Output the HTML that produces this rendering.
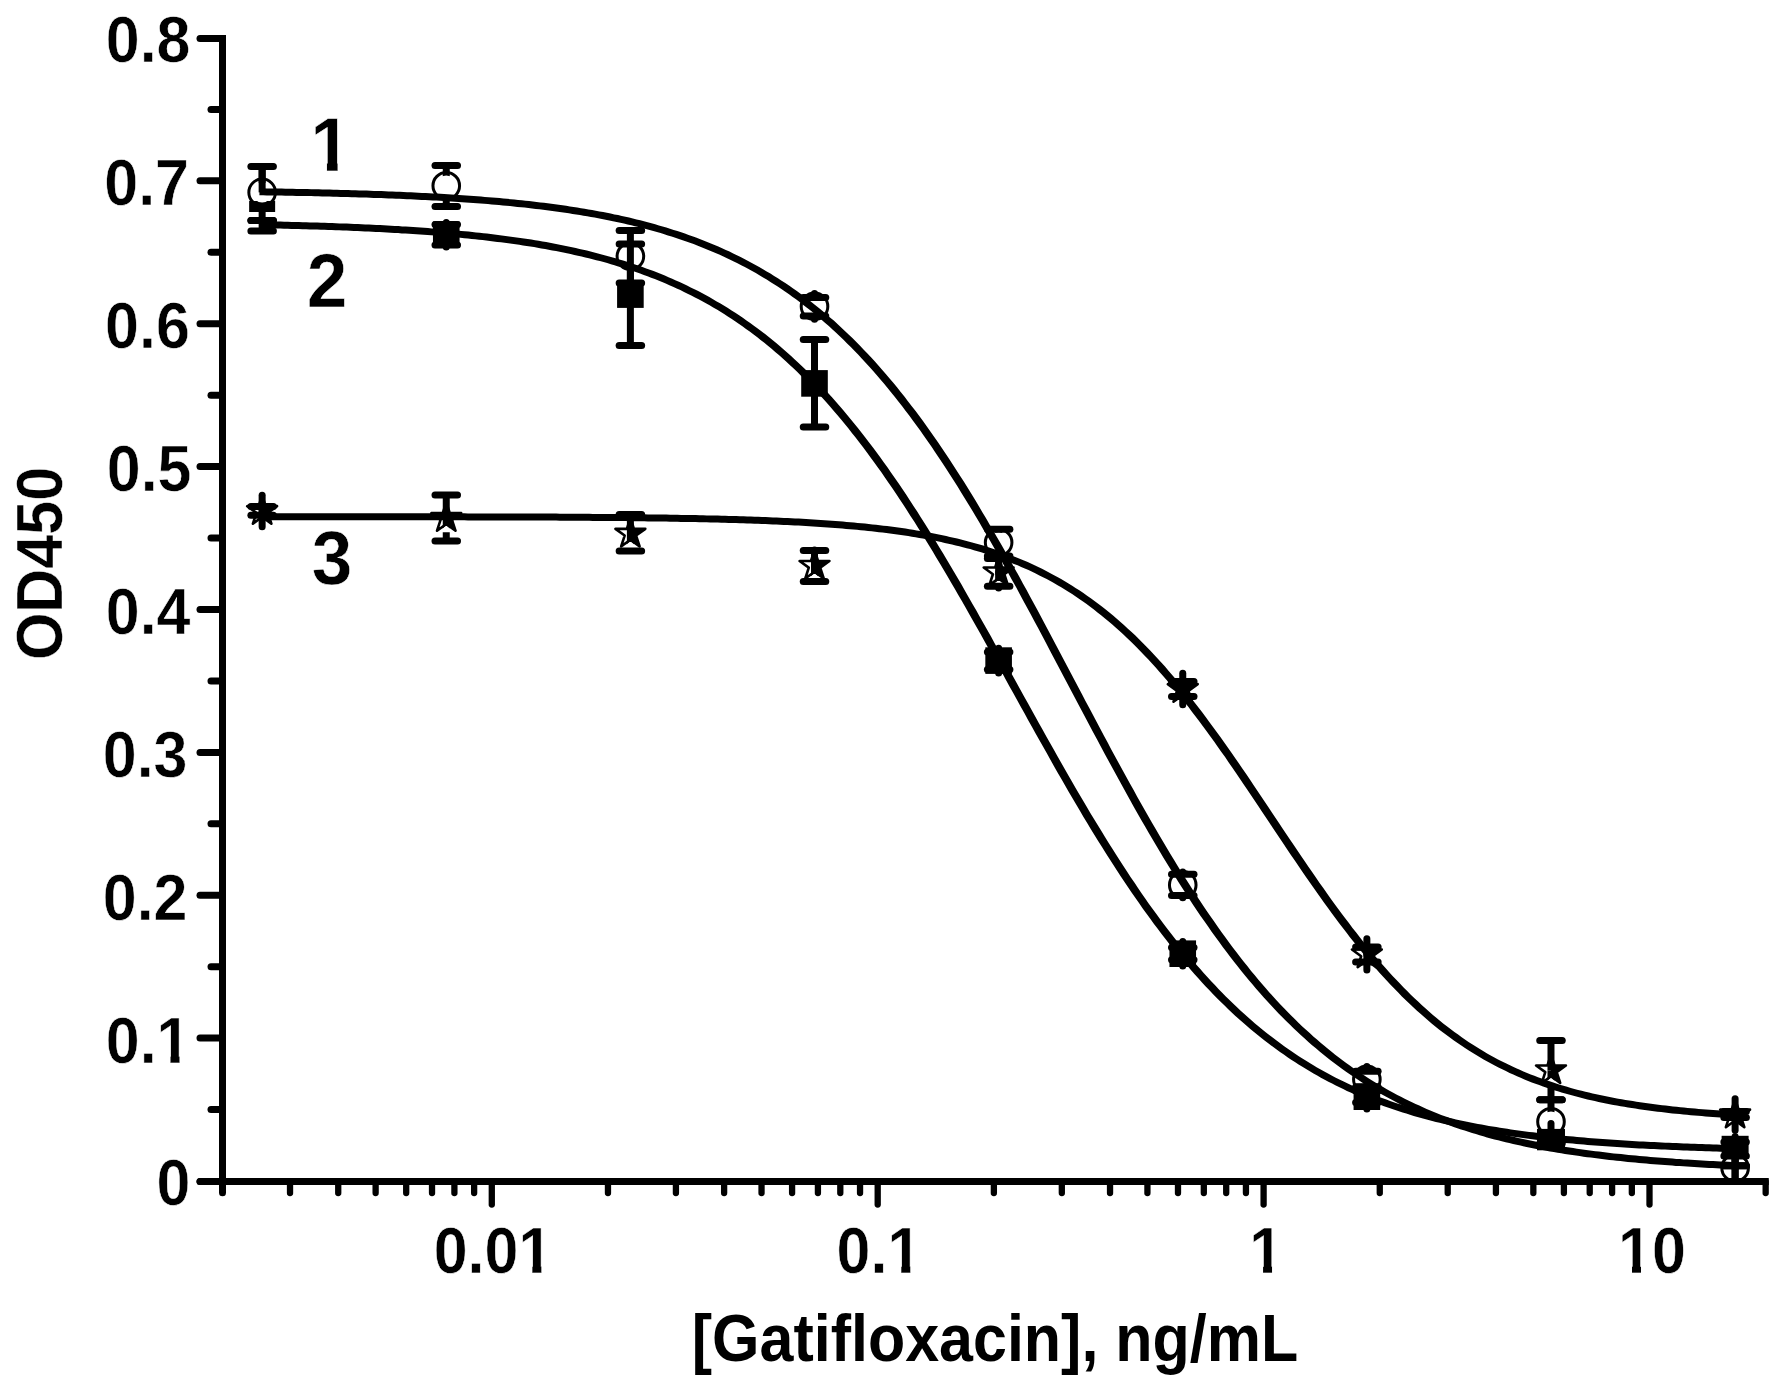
<!DOCTYPE html>
<html><head><meta charset="utf-8"><title>Gatifloxacin ELISA curves</title>
<style>
html,body{margin:0;padding:0;background:#fff;}
svg{display:block}
text{font-family:"Liberation Sans",sans-serif;font-weight:bold;fill:#000;stroke:#fff;stroke-width:0.5px}
</style></head><body>
<svg width="1784" height="1389" viewBox="0 0 1784 1389" stroke="#000" fill="none" shape-rendering="geometricPrecision">
<rect width="1784" height="1389" fill="#fff" stroke="none"/>
<line x1="222.50" y1="35.00" x2="222.50" y2="1192.75" stroke-width="7" stroke-linecap="butt"/>
<line x1="222.50" y1="1190.00" x2="222.50" y2="1192.75" stroke-width="7" stroke-linecap="round"/>
<line x1="200.00" y1="1181.50" x2="1768.50" y2="1181.50" stroke-width="7" stroke-linecap="butt"/>
<line x1="200.00" y1="1181.50" x2="210.00" y2="1181.50" stroke-width="7" stroke-linecap="round"/>
<line x1="200.00" y1="1181.50" x2="222.50" y2="1181.50" stroke-width="7" stroke-linecap="round"/>
<line x1="211.00" y1="1109.56" x2="222.50" y2="1109.56" stroke-width="7" stroke-linecap="round"/>
<line x1="200.00" y1="1038.12" x2="222.50" y2="1038.12" stroke-width="7" stroke-linecap="round"/>
<line x1="211.00" y1="966.69" x2="222.50" y2="966.69" stroke-width="7" stroke-linecap="round"/>
<line x1="200.00" y1="895.25" x2="222.50" y2="895.25" stroke-width="7" stroke-linecap="round"/>
<line x1="211.00" y1="823.81" x2="222.50" y2="823.81" stroke-width="7" stroke-linecap="round"/>
<line x1="200.00" y1="752.38" x2="222.50" y2="752.38" stroke-width="7" stroke-linecap="round"/>
<line x1="211.00" y1="680.94" x2="222.50" y2="680.94" stroke-width="7" stroke-linecap="round"/>
<line x1="200.00" y1="609.50" x2="222.50" y2="609.50" stroke-width="7" stroke-linecap="round"/>
<line x1="211.00" y1="538.06" x2="222.50" y2="538.06" stroke-width="7" stroke-linecap="round"/>
<line x1="200.00" y1="466.62" x2="222.50" y2="466.62" stroke-width="7" stroke-linecap="round"/>
<line x1="211.00" y1="395.19" x2="222.50" y2="395.19" stroke-width="7" stroke-linecap="round"/>
<line x1="200.00" y1="323.75" x2="222.50" y2="323.75" stroke-width="7" stroke-linecap="round"/>
<line x1="211.00" y1="252.31" x2="222.50" y2="252.31" stroke-width="7" stroke-linecap="round"/>
<line x1="200.00" y1="180.87" x2="222.50" y2="180.87" stroke-width="7" stroke-linecap="round"/>
<line x1="211.00" y1="109.44" x2="222.50" y2="109.44" stroke-width="7" stroke-linecap="round"/>
<line x1="200.00" y1="38.50" x2="222.50" y2="38.50" stroke-width="7" stroke-linecap="round"/>
<rect x="219.0" y="35" width="7" height="7" fill="#000" stroke="none"/>
<line x1="290.02" y1="1181.50" x2="290.02" y2="1193.00" stroke-width="6.3" stroke-linecap="round"/>
<line x1="338.23" y1="1181.50" x2="338.23" y2="1193.00" stroke-width="6.3" stroke-linecap="round"/>
<line x1="375.63" y1="1181.50" x2="375.63" y2="1193.00" stroke-width="6.3" stroke-linecap="round"/>
<line x1="406.19" y1="1181.50" x2="406.19" y2="1193.00" stroke-width="6.3" stroke-linecap="round"/>
<line x1="432.02" y1="1181.50" x2="432.02" y2="1193.00" stroke-width="6.3" stroke-linecap="round"/>
<line x1="454.40" y1="1181.50" x2="454.40" y2="1193.00" stroke-width="6.3" stroke-linecap="round"/>
<line x1="474.14" y1="1181.50" x2="474.14" y2="1193.00" stroke-width="6.3" stroke-linecap="round"/>
<line x1="491.80" y1="1181.50" x2="491.80" y2="1204.60" stroke-width="6.3" stroke-linecap="round"/>
<line x1="607.97" y1="1181.50" x2="607.97" y2="1193.00" stroke-width="6.3" stroke-linecap="round"/>
<line x1="675.92" y1="1181.50" x2="675.92" y2="1193.00" stroke-width="6.3" stroke-linecap="round"/>
<line x1="724.13" y1="1181.50" x2="724.13" y2="1193.00" stroke-width="6.3" stroke-linecap="round"/>
<line x1="761.53" y1="1181.50" x2="761.53" y2="1193.00" stroke-width="6.3" stroke-linecap="round"/>
<line x1="792.09" y1="1181.50" x2="792.09" y2="1193.00" stroke-width="6.3" stroke-linecap="round"/>
<line x1="817.92" y1="1181.50" x2="817.92" y2="1193.00" stroke-width="6.3" stroke-linecap="round"/>
<line x1="840.30" y1="1181.50" x2="840.30" y2="1193.00" stroke-width="6.3" stroke-linecap="round"/>
<line x1="860.04" y1="1181.50" x2="860.04" y2="1193.00" stroke-width="6.3" stroke-linecap="round"/>
<line x1="877.70" y1="1181.50" x2="877.70" y2="1204.60" stroke-width="6.3" stroke-linecap="round"/>
<line x1="993.87" y1="1181.50" x2="993.87" y2="1193.00" stroke-width="6.3" stroke-linecap="round"/>
<line x1="1061.82" y1="1181.50" x2="1061.82" y2="1193.00" stroke-width="6.3" stroke-linecap="round"/>
<line x1="1110.03" y1="1181.50" x2="1110.03" y2="1193.00" stroke-width="6.3" stroke-linecap="round"/>
<line x1="1147.43" y1="1181.50" x2="1147.43" y2="1193.00" stroke-width="6.3" stroke-linecap="round"/>
<line x1="1177.99" y1="1181.50" x2="1177.99" y2="1193.00" stroke-width="6.3" stroke-linecap="round"/>
<line x1="1203.82" y1="1181.50" x2="1203.82" y2="1193.00" stroke-width="6.3" stroke-linecap="round"/>
<line x1="1226.20" y1="1181.50" x2="1226.20" y2="1193.00" stroke-width="6.3" stroke-linecap="round"/>
<line x1="1245.94" y1="1181.50" x2="1245.94" y2="1193.00" stroke-width="6.3" stroke-linecap="round"/>
<line x1="1263.60" y1="1181.50" x2="1263.60" y2="1204.60" stroke-width="6.3" stroke-linecap="round"/>
<line x1="1379.77" y1="1181.50" x2="1379.77" y2="1193.00" stroke-width="6.3" stroke-linecap="round"/>
<line x1="1447.72" y1="1181.50" x2="1447.72" y2="1193.00" stroke-width="6.3" stroke-linecap="round"/>
<line x1="1495.93" y1="1181.50" x2="1495.93" y2="1193.00" stroke-width="6.3" stroke-linecap="round"/>
<line x1="1533.33" y1="1181.50" x2="1533.33" y2="1193.00" stroke-width="6.3" stroke-linecap="round"/>
<line x1="1563.89" y1="1181.50" x2="1563.89" y2="1193.00" stroke-width="6.3" stroke-linecap="round"/>
<line x1="1589.72" y1="1181.50" x2="1589.72" y2="1193.00" stroke-width="6.3" stroke-linecap="round"/>
<line x1="1612.10" y1="1181.50" x2="1612.10" y2="1193.00" stroke-width="6.3" stroke-linecap="round"/>
<line x1="1631.84" y1="1181.50" x2="1631.84" y2="1193.00" stroke-width="6.3" stroke-linecap="round"/>
<line x1="1649.50" y1="1181.50" x2="1649.50" y2="1204.60" stroke-width="6.3" stroke-linecap="round"/>
<line x1="1765.67" y1="1181.50" x2="1765.67" y2="1193.00" stroke-width="6.3" stroke-linecap="round"/>
<rect x="1761.5" y="1178.0" width="7" height="7" fill="#000" stroke="none"/>
<rect x="249.14" y="201" width="26" height="11" fill="#000" stroke="none"/>
<line x1="262.14" y1="166.50" x2="262.14" y2="192.40" stroke-width="7" stroke-linecap="butt"/>
<line x1="262.14" y1="192.40" x2="262.14" y2="220.50" stroke-width="7" stroke-linecap="butt"/>
<circle cx="262.14" cy="192.40" r="10.2" fill="#fff" stroke="none"/>
<circle cx="262.14" cy="192.40" r="13.3" fill="none" stroke-width="3"/>
<line x1="250.89" y1="166.50" x2="273.39" y2="166.50" stroke-width="7" stroke-linecap="round"/>
<line x1="250.89" y1="220.50" x2="273.39" y2="220.50" stroke-width="7" stroke-linecap="round"/>
<line x1="262.14" y1="166.50" x2="262.14" y2="192.40" stroke-width="7" stroke-linecap="butt"/>
<line x1="446.26" y1="165.50" x2="446.26" y2="185.80" stroke-width="7" stroke-linecap="butt"/>
<line x1="446.26" y1="185.80" x2="446.26" y2="206.50" stroke-width="7" stroke-linecap="butt"/>
<circle cx="446.26" cy="185.80" r="10.2" fill="#fff" stroke="none"/>
<circle cx="446.26" cy="185.80" r="13.3" fill="none" stroke-width="3"/>
<line x1="435.01" y1="165.50" x2="457.51" y2="165.50" stroke-width="7" stroke-linecap="round"/>
<line x1="435.01" y1="206.50" x2="457.51" y2="206.50" stroke-width="7" stroke-linecap="round"/>
<line x1="630.39" y1="230.60" x2="630.39" y2="256.25" stroke-width="7" stroke-linecap="butt"/>
<line x1="630.39" y1="256.25" x2="630.39" y2="283.00" stroke-width="7" stroke-linecap="butt"/>
<circle cx="630.39" cy="256.25" r="10.2" fill="#fff" stroke="none"/>
<circle cx="630.39" cy="256.25" r="13.3" fill="none" stroke-width="3"/>
<line x1="619.14" y1="230.60" x2="641.64" y2="230.60" stroke-width="7" stroke-linecap="round"/>
<line x1="619.14" y1="283.00" x2="641.64" y2="283.00" stroke-width="7" stroke-linecap="round"/>
<line x1="814.51" y1="293.50" x2="814.51" y2="306.40" stroke-width="7" stroke-linecap="round"/>
<line x1="814.51" y1="306.40" x2="814.51" y2="319.30" stroke-width="7" stroke-linecap="round"/>
<circle cx="814.51" cy="306.40" r="10.2" fill="#fff" stroke="none"/>
<circle cx="814.51" cy="306.40" r="13.3" fill="none" stroke-width="3"/>
<line x1="803.26" y1="297.40" x2="825.76" y2="297.40" stroke-width="7" stroke-linecap="round"/>
<line x1="803.26" y1="316.00" x2="825.76" y2="316.00" stroke-width="7" stroke-linecap="round"/>
<line x1="998.63" y1="529.60" x2="998.63" y2="542.50" stroke-width="7" stroke-linecap="round"/>
<line x1="998.63" y1="542.50" x2="998.63" y2="555.40" stroke-width="7" stroke-linecap="round"/>
<circle cx="998.63" cy="542.50" r="10.2" fill="#fff" stroke="none"/>
<circle cx="998.63" cy="542.50" r="13.3" fill="none" stroke-width="3"/>
<line x1="987.38" y1="529.20" x2="1009.88" y2="529.20" stroke-width="7" stroke-linecap="round"/>
<line x1="987.38" y1="556.00" x2="1009.88" y2="556.00" stroke-width="7" stroke-linecap="round"/>
<line x1="1182.75" y1="872.00" x2="1182.75" y2="884.90" stroke-width="7" stroke-linecap="round"/>
<line x1="1182.75" y1="884.90" x2="1182.75" y2="897.80" stroke-width="7" stroke-linecap="round"/>
<circle cx="1182.75" cy="884.90" r="10.2" fill="#fff" stroke="none"/>
<circle cx="1182.75" cy="884.90" r="13.3" fill="none" stroke-width="3"/>
<line x1="1171.50" y1="874.30" x2="1194.00" y2="874.30" stroke-width="7" stroke-linecap="round"/>
<line x1="1171.50" y1="895.40" x2="1194.00" y2="895.40" stroke-width="7" stroke-linecap="round"/>
<line x1="1366.87" y1="1066.50" x2="1366.87" y2="1079.40" stroke-width="7" stroke-linecap="round"/>
<line x1="1366.87" y1="1079.40" x2="1366.87" y2="1092.30" stroke-width="7" stroke-linecap="round"/>
<circle cx="1366.87" cy="1079.40" r="10.2" fill="#fff" stroke="none"/>
<circle cx="1366.87" cy="1079.40" r="13.3" fill="none" stroke-width="3"/>
<line x1="1355.62" y1="1071.30" x2="1378.12" y2="1071.30" stroke-width="7" stroke-linecap="round"/>
<line x1="1355.62" y1="1087.00" x2="1378.12" y2="1087.00" stroke-width="7" stroke-linecap="round"/>
<line x1="1550.99" y1="1099.80" x2="1550.99" y2="1121.70" stroke-width="7" stroke-linecap="butt"/>
<line x1="1550.99" y1="1121.70" x2="1550.99" y2="1143.60" stroke-width="7" stroke-linecap="butt"/>
<circle cx="1550.99" cy="1121.70" r="10.2" fill="#fff" stroke="none"/>
<circle cx="1550.99" cy="1121.70" r="13.3" fill="none" stroke-width="3"/>
<line x1="1539.74" y1="1099.80" x2="1562.24" y2="1099.80" stroke-width="7" stroke-linecap="round"/>
<line x1="1539.74" y1="1143.60" x2="1562.24" y2="1143.60" stroke-width="7" stroke-linecap="round"/>
<line x1="1735.11" y1="1155.10" x2="1735.11" y2="1168.00" stroke-width="7" stroke-linecap="round"/>
<line x1="1735.11" y1="1168.00" x2="1735.11" y2="1180.90" stroke-width="7" stroke-linecap="round"/>
<line x1="1735.11" y1="1158.00" x2="1735.11" y2="1181.00" stroke-width="7" stroke-linecap="butt"/>
<circle cx="1735.11" cy="1168.00" r="13.3" fill="none" stroke-width="3"/>
<line x1="1723.86" y1="1165.70" x2="1746.36" y2="1165.70" stroke-width="7" stroke-linecap="round"/>
<line x1="1723.86" y1="1165.70" x2="1746.36" y2="1165.70" stroke-width="7" stroke-linecap="round"/>
<polygon points="259.4,195.2 263.1,195.3 266.8,195.4 270.5,195.4 274.2,195.5 277.9,195.5 281.6,195.6 285.3,195.7 288.9,195.7 292.6,195.8 296.3,195.9 300.0,195.9 303.7,196.0 307.4,196.1 311.1,196.1 314.8,196.2 318.4,196.3 322.1,196.4 325.8,196.5 329.5,196.6 333.2,196.7 336.9,196.8 340.6,196.9 344.3,197.0 347.9,197.1 351.6,197.2 355.3,197.3 359.0,197.4 362.7,197.5 366.4,197.6 370.1,197.7 373.7,197.9 377.4,198.0 381.1,198.1 384.8,198.3 388.5,198.4 392.2,198.5 395.9,198.7 399.5,198.8 403.2,199.0 406.9,199.2 410.6,199.3 414.3,199.5 418.0,199.7 421.6,199.9 425.3,200.0 429.0,200.2 432.7,200.4 436.4,200.6 440.1,200.8 443.7,201.1 447.4,201.3 451.1,201.5 454.8,201.7 458.5,202.0 462.2,202.2 465.8,202.5 469.5,202.7 473.2,203.0 476.9,203.3 480.6,203.6 484.2,203.8 487.9,204.1 491.6,204.4 495.3,204.8 499.0,205.1 502.7,205.4 506.3,205.8 510.0,206.1 513.7,206.5 517.4,206.9 521.1,207.2 524.7,207.6 528.4,208.0 532.1,208.5 535.8,208.9 539.4,209.3 543.1,209.8 546.8,210.2 550.5,210.7 554.1,211.2 557.8,211.7 561.5,212.2 565.2,212.8 568.9,213.3 572.5,213.9 576.2,214.5 579.9,215.1 583.5,215.7 587.2,216.3 590.9,216.9 594.6,217.6 598.2,218.3 601.9,219.0 605.6,219.7 609.3,220.4 612.9,221.2 616.6,222.0 620.3,222.8 623.9,223.6 627.6,224.5 631.3,225.3 634.9,226.2 638.6,227.1 642.3,228.1 645.9,229.0 649.6,230.0 653.3,231.0 656.9,232.1 660.6,233.1 664.3,234.2 667.9,235.4 671.6,236.5 675.3,237.7 678.9,238.9 682.6,240.2 686.3,241.5 689.9,242.8 693.6,244.1 697.2,245.5 700.9,247.0 704.6,248.4 708.2,249.9 711.9,251.4 715.5,253.0 719.2,254.6 722.9,256.3 726.5,258.0 730.2,259.7 733.8,261.5 737.5,263.3 741.2,265.2 744.8,267.1 748.5,269.1 752.1,271.1 755.8,273.1 759.4,275.2 763.1,277.4 766.7,279.6 770.4,281.9 774.0,284.2 777.7,286.6 781.4,289.0 785.0,291.5 788.7,294.1 792.3,296.7 796.0,299.3 799.6,302.1 803.3,304.9 806.9,307.7 810.6,310.6 814.2,313.6 817.9,316.6 821.5,319.7 825.2,322.9 828.8,326.1 832.5,329.5 836.1,332.8 839.8,336.3 843.5,339.8 847.1,343.4 850.8,347.0 854.4,350.8 858.1,354.6 861.7,358.4 865.4,362.4 869.1,366.4 872.7,370.5 876.4,374.7 880.0,379.0 883.7,383.3 887.4,387.7 891.0,392.2 894.7,396.7 898.4,401.4 902.0,406.1 905.7,410.9 909.4,415.7 913.0,420.7 916.7,425.7 920.4,430.8 924.0,436.0 927.7,441.2 931.4,446.5 935.0,451.9 938.7,457.4 942.4,463.0 946.0,468.6 949.7,474.3 953.4,480.0 957.1,485.8 960.7,491.7 964.4,497.7 968.1,503.7 971.8,509.8 975.5,515.9 979.1,522.1 982.8,528.4 986.5,534.7 990.2,541.1 993.9,547.5 997.6,554.0 1001.2,560.6 1004.9,567.1 1008.6,573.8 1012.3,580.4 1016.0,587.1 1019.7,593.9 1023.3,600.7 1027.0,607.5 1030.7,614.3 1034.4,621.2 1038.1,628.1 1041.8,635.0 1045.5,642.0 1049.1,648.9 1052.8,655.9 1056.5,662.9 1060.2,669.9 1063.9,676.9 1067.6,683.9 1071.3,690.9 1075.0,697.9 1078.7,704.9 1082.3,711.8 1086.0,718.8 1089.7,725.8 1093.4,732.7 1097.1,739.6 1100.8,746.5 1104.5,753.4 1108.2,760.2 1111.9,767.1 1115.6,773.8 1119.3,780.6 1123.0,787.3 1126.7,794.0 1130.3,800.6 1134.0,807.2 1137.7,813.7 1141.4,820.2 1145.1,826.6 1148.8,833.0 1152.5,839.3 1156.2,845.6 1159.9,851.8 1163.6,858.0 1167.3,864.1 1171.0,870.1 1174.7,876.1 1178.4,882.0 1182.1,887.8 1185.8,893.5 1189.5,899.2 1193.2,904.9 1196.9,910.4 1200.6,915.9 1204.4,921.3 1208.1,926.6 1211.8,931.9 1215.5,937.0 1219.2,942.1 1222.9,947.2 1226.6,952.1 1230.3,957.0 1234.0,961.8 1237.8,966.5 1241.5,971.2 1245.2,975.7 1248.9,980.2 1252.6,984.6 1256.3,989.0 1260.1,993.2 1263.8,997.4 1267.5,1001.5 1271.2,1005.6 1274.9,1009.5 1278.6,1013.4 1282.4,1017.2 1286.1,1021.0 1289.8,1024.6 1293.5,1028.2 1297.3,1031.8 1301.0,1035.2 1304.7,1038.6 1308.4,1041.9 1312.1,1045.2 1315.9,1048.3 1319.6,1051.5 1323.3,1054.5 1327.0,1057.5 1330.8,1060.4 1334.5,1063.3 1338.2,1066.1 1341.9,1068.8 1345.7,1071.5 1349.4,1074.1 1353.1,1076.6 1356.9,1079.1 1360.6,1081.5 1364.3,1083.9 1368.0,1086.3 1371.8,1088.5 1375.5,1090.7 1379.2,1092.9 1382.9,1095.0 1386.6,1097.1 1390.4,1099.1 1394.1,1101.1 1397.8,1103.0 1401.5,1104.9 1405.2,1106.8 1409.0,1108.5 1412.7,1110.3 1416.4,1112.0 1420.1,1113.7 1423.8,1115.3 1427.6,1116.9 1431.3,1118.4 1435.0,1119.9 1438.7,1121.4 1442.4,1122.8 1446.1,1124.2 1449.9,1125.6 1453.6,1126.9 1457.3,1128.2 1461.0,1129.4 1464.7,1130.6 1468.4,1131.8 1472.1,1133.0 1475.9,1134.1 1479.6,1135.2 1483.3,1136.3 1487.0,1137.4 1490.7,1138.4 1494.4,1139.4 1498.1,1140.3 1501.8,1141.3 1505.6,1142.2 1509.3,1143.1 1513.0,1143.9 1516.7,1144.8 1520.4,1145.6 1524.1,1146.4 1527.8,1147.2 1531.5,1147.9 1535.2,1148.7 1538.9,1149.4 1542.6,1150.1 1546.3,1150.8 1550.0,1151.4 1553.7,1152.1 1557.5,1152.7 1561.2,1153.3 1564.9,1153.9 1568.6,1154.5 1572.3,1155.1 1576.0,1155.6 1579.7,1156.1 1583.4,1156.7 1587.1,1157.2 1590.8,1157.6 1594.5,1158.1 1598.2,1158.6 1601.9,1159.0 1605.6,1159.5 1609.3,1159.9 1613.0,1160.3 1616.7,1160.7 1620.4,1161.1 1624.1,1161.5 1627.8,1161.9 1631.5,1162.2 1635.2,1162.6 1638.9,1162.9 1642.6,1163.2 1646.3,1163.6 1650.0,1163.9 1653.7,1164.2 1657.4,1164.5 1661.1,1164.8 1664.7,1165.1 1668.4,1165.3 1672.1,1165.6 1675.8,1165.9 1679.5,1166.1 1683.2,1166.3 1686.9,1166.6 1690.6,1166.8 1694.3,1167.0 1698.0,1167.3 1701.7,1167.5 1705.4,1167.7 1709.1,1167.9 1712.8,1168.1 1716.5,1168.3 1720.2,1168.4 1723.9,1168.6 1727.6,1168.8 1731.3,1169.0 1734.9,1169.1 1735.3,1162.1 1731.6,1162.0 1727.9,1161.8 1724.2,1161.6 1720.5,1161.5 1716.8,1161.3 1713.1,1161.1 1709.5,1160.9 1705.8,1160.7 1702.1,1160.5 1698.4,1160.3 1694.7,1160.1 1691.0,1159.8 1687.4,1159.6 1683.7,1159.4 1680.0,1159.1 1676.3,1158.9 1672.6,1158.6 1669.0,1158.3 1665.3,1158.1 1661.6,1157.8 1657.9,1157.5 1654.2,1157.2 1650.5,1156.9 1646.9,1156.6 1643.2,1156.3 1639.5,1155.9 1635.8,1155.6 1632.1,1155.3 1628.5,1154.9 1624.8,1154.5 1621.1,1154.1 1617.4,1153.8 1613.7,1153.4 1610.1,1152.9 1606.4,1152.5 1602.7,1152.1 1599.0,1151.6 1595.4,1151.2 1591.7,1150.7 1588.0,1150.2 1584.3,1149.7 1580.7,1149.2 1577.0,1148.7 1573.3,1148.1 1569.6,1147.6 1566.0,1147.0 1562.3,1146.4 1558.6,1145.8 1554.9,1145.2 1551.3,1144.6 1547.6,1143.9 1543.9,1143.2 1540.2,1142.5 1536.6,1141.8 1532.9,1141.1 1529.2,1140.3 1525.6,1139.6 1521.9,1138.8 1518.2,1138.0 1514.5,1137.1 1510.9,1136.3 1507.2,1135.4 1503.5,1134.5 1499.9,1133.5 1496.2,1132.6 1492.5,1131.6 1488.9,1130.6 1485.2,1129.6 1481.5,1128.5 1477.9,1127.4 1474.2,1126.3 1470.5,1125.2 1466.9,1124.0 1463.2,1122.8 1459.6,1121.5 1455.9,1120.3 1452.2,1119.0 1448.6,1117.6 1444.9,1116.3 1441.2,1114.9 1437.6,1113.4 1433.9,1111.9 1430.3,1110.4 1426.6,1108.9 1422.9,1107.3 1419.3,1105.6 1415.6,1103.9 1412.0,1102.2 1408.3,1100.5 1404.7,1098.7 1401.0,1096.8 1397.3,1094.9 1393.7,1093.0 1390.0,1091.0 1386.4,1088.9 1382.7,1086.8 1379.1,1084.7 1375.4,1082.5 1371.7,1080.3 1368.1,1078.0 1364.4,1075.6 1360.8,1073.2 1357.1,1070.7 1353.5,1068.2 1349.8,1065.6 1346.2,1063.0 1342.5,1060.3 1338.9,1057.5 1335.2,1054.7 1331.6,1051.8 1327.9,1048.8 1324.3,1045.8 1320.6,1042.8 1317.0,1039.6 1313.3,1036.4 1309.7,1033.1 1306.0,1029.8 1302.3,1026.4 1298.7,1022.9 1295.0,1019.3 1291.4,1015.7 1287.7,1012.0 1284.1,1008.2 1280.4,1004.4 1276.7,1000.4 1273.1,996.4 1269.4,992.4 1265.8,988.2 1262.1,984.0 1258.4,979.7 1254.8,975.3 1251.1,970.9 1247.5,966.3 1243.8,961.7 1240.1,957.1 1236.5,952.3 1232.8,947.5 1229.1,942.5 1225.5,937.6 1221.8,932.5 1218.1,927.3 1214.5,922.1 1210.8,916.8 1207.1,911.5 1203.4,906.0 1199.8,900.5 1196.1,894.9 1192.4,889.3 1188.8,883.5 1185.1,877.7 1181.4,871.9 1177.7,866.0 1174.1,860.0 1170.4,853.9 1166.7,847.8 1163.0,841.6 1159.3,835.3 1155.7,829.0 1152.0,822.7 1148.3,816.3 1144.6,809.8 1140.9,803.3 1137.2,796.7 1133.6,790.1 1129.9,783.5 1126.2,776.8 1122.5,770.1 1118.8,763.3 1115.1,756.5 1111.4,749.7 1107.8,742.8 1104.1,735.9 1100.4,729.0 1096.7,722.1 1093.0,715.1 1089.3,708.1 1085.6,701.2 1082.0,694.2 1078.3,687.2 1074.6,680.2 1070.9,673.2 1067.2,666.2 1063.5,659.2 1059.8,652.2 1056.1,645.2 1052.4,638.3 1048.7,631.3 1045.1,624.4 1041.4,617.5 1037.7,610.6 1034.0,603.7 1030.3,596.9 1026.6,590.1 1022.9,583.4 1019.2,576.6 1015.5,569.9 1011.8,563.3 1008.1,556.7 1004.4,550.1 1000.7,543.6 997.0,537.2 993.3,530.8 989.6,524.4 985.9,518.1 982.2,511.9 978.6,505.7 974.9,499.6 971.2,493.5 967.5,487.6 963.8,481.6 960.0,475.8 956.3,470.0 952.6,464.3 948.9,458.6 945.2,453.1 941.5,447.6 937.8,442.1 934.1,436.8 930.4,431.5 926.7,426.3 923.0,421.1 919.3,416.1 915.6,411.1 911.8,406.2 908.1,401.4 904.4,396.6 900.7,391.9 897.0,387.3 893.3,382.8 889.6,378.4 885.8,374.0 882.1,369.7 878.4,365.5 874.7,361.3 871.0,357.3 867.2,353.3 863.5,349.4 859.8,345.5 856.1,341.8 852.4,338.1 848.6,334.4 844.9,330.9 841.2,327.4 837.5,324.0 833.8,320.6 830.0,317.4 826.3,314.2 822.6,311.0 818.9,307.9 815.1,304.9 811.4,302.0 807.7,299.1 804.0,296.3 800.2,293.5 796.5,290.8 792.8,288.2 789.0,285.6 785.3,283.1 781.6,280.7 777.9,278.3 774.1,275.9 770.4,273.6 766.7,271.4 763.0,269.2 759.2,267.0 755.5,265.0 751.8,262.9 748.1,260.9 744.4,259.0 740.6,257.1 736.9,255.2 733.2,253.4 729.5,251.6 725.8,249.9 722.1,248.2 718.3,246.6 714.6,245.0 710.9,243.4 707.2,241.9 703.5,240.4 699.7,239.0 696.0,237.6 692.3,236.2 688.6,234.9 684.9,233.6 681.2,232.3 677.4,231.1 673.7,229.9 670.0,228.7 666.3,227.6 662.6,226.4 658.9,225.4 655.2,224.3 651.5,223.3 647.7,222.3 644.0,221.3 640.3,220.3 636.6,219.4 632.9,218.5 629.2,217.6 625.5,216.8 621.8,216.0 618.1,215.1 614.4,214.4 610.7,213.6 606.9,212.8 603.2,212.1 599.5,211.4 595.8,210.7 592.1,210.1 588.4,209.4 584.7,208.8 581.0,208.2 577.3,207.6 573.6,207.0 569.9,206.4 566.2,205.8 562.5,205.3 558.8,204.8 555.1,204.3 551.4,203.8 547.7,203.3 544.0,202.8 540.3,202.4 536.6,201.9 532.9,201.5 529.2,201.1 525.5,200.7 521.8,200.3 518.1,199.9 514.4,199.5 510.7,199.2 507.0,198.8 503.3,198.5 499.6,198.1 495.9,197.8 492.2,197.5 488.5,197.2 484.8,196.9 481.1,196.6 477.4,196.3 473.7,196.0 470.0,195.7 466.3,195.5 462.6,195.2 458.9,195.0 455.2,194.7 451.5,194.5 447.9,194.3 444.2,194.1 440.5,193.8 436.8,193.6 433.1,193.4 429.4,193.2 425.7,193.0 422.0,192.9 418.3,192.7 414.6,192.5 410.9,192.3 407.2,192.2 403.5,192.0 399.8,191.8 396.1,191.7 392.4,191.5 388.7,191.4 385.1,191.3 381.4,191.1 377.7,191.0 374.0,190.9 370.3,190.7 366.6,190.6 362.9,190.5 359.2,190.4 355.5,190.3 351.8,190.2 348.1,190.1 344.4,190.0 340.8,189.9 337.1,189.8 333.4,189.7 329.7,189.6 326.0,189.5 322.3,189.4 318.6,189.3 314.9,189.2 311.2,189.2 307.5,189.1 303.8,189.0 300.1,188.9 296.5,188.9 292.8,188.8 289.1,188.7 285.4,188.7 281.7,188.6 278.0,188.5 274.3,188.5 270.6,188.4 266.9,188.4 263.2,188.3 259.6,188.2" fill="#000" stroke="none"/>
<line x1="262.14" y1="220.50" x2="262.14" y2="231.00" stroke-width="7" stroke-linecap="butt"/>
<line x1="250.89" y1="220.50" x2="273.39" y2="220.50" stroke-width="7" stroke-linecap="round"/>
<line x1="250.89" y1="231.00" x2="273.39" y2="231.00" stroke-width="7" stroke-linecap="round"/>
<line x1="446.26" y1="222.45" x2="446.26" y2="234.75" stroke-width="7" stroke-linecap="round"/>
<line x1="446.26" y1="234.75" x2="446.26" y2="247.05" stroke-width="7" stroke-linecap="round"/>
<line x1="435.01" y1="224.50" x2="457.51" y2="224.50" stroke-width="7" stroke-linecap="round"/>
<line x1="435.01" y1="245.00" x2="457.51" y2="245.00" stroke-width="7" stroke-linecap="round"/>
<rect x="432.96" y="221.45" width="26.6" height="26.6" fill="#000" stroke="none"/>
<line x1="630.39" y1="243.90" x2="630.39" y2="294.60" stroke-width="7" stroke-linecap="butt"/>
<line x1="630.39" y1="294.60" x2="630.39" y2="345.40" stroke-width="7" stroke-linecap="butt"/>
<line x1="619.14" y1="243.90" x2="641.64" y2="243.90" stroke-width="7" stroke-linecap="round"/>
<line x1="619.14" y1="345.40" x2="641.64" y2="345.40" stroke-width="7" stroke-linecap="round"/>
<rect x="617.09" y="281.30" width="26.6" height="26.6" fill="#000" stroke="none"/>
<line x1="814.51" y1="339.60" x2="814.51" y2="383.40" stroke-width="7" stroke-linecap="butt"/>
<line x1="814.51" y1="383.40" x2="814.51" y2="427.00" stroke-width="7" stroke-linecap="butt"/>
<line x1="803.26" y1="339.60" x2="825.76" y2="339.60" stroke-width="7" stroke-linecap="round"/>
<line x1="803.26" y1="427.00" x2="825.76" y2="427.00" stroke-width="7" stroke-linecap="round"/>
<rect x="801.21" y="370.10" width="26.6" height="26.6" fill="#000" stroke="none"/>
<line x1="998.63" y1="648.30" x2="998.63" y2="660.60" stroke-width="7" stroke-linecap="round"/>
<line x1="998.63" y1="660.60" x2="998.63" y2="672.90" stroke-width="7" stroke-linecap="round"/>
<line x1="987.38" y1="652.00" x2="1009.88" y2="652.00" stroke-width="7" stroke-linecap="round"/>
<line x1="987.38" y1="669.60" x2="1009.88" y2="669.60" stroke-width="7" stroke-linecap="round"/>
<rect x="985.33" y="647.30" width="26.6" height="26.6" fill="#000" stroke="none"/>
<line x1="1182.75" y1="941.40" x2="1182.75" y2="953.70" stroke-width="7" stroke-linecap="round"/>
<line x1="1182.75" y1="953.70" x2="1182.75" y2="966.00" stroke-width="7" stroke-linecap="round"/>
<line x1="1171.50" y1="947.50" x2="1194.00" y2="947.50" stroke-width="7" stroke-linecap="round"/>
<line x1="1171.50" y1="959.70" x2="1194.00" y2="959.70" stroke-width="7" stroke-linecap="round"/>
<rect x="1169.45" y="940.40" width="26.6" height="26.6" fill="#000" stroke="none"/>
<line x1="1366.87" y1="1084.40" x2="1366.87" y2="1096.70" stroke-width="7" stroke-linecap="round"/>
<line x1="1366.87" y1="1096.70" x2="1366.87" y2="1109.00" stroke-width="7" stroke-linecap="round"/>
<line x1="1355.62" y1="1091.00" x2="1378.12" y2="1091.00" stroke-width="7" stroke-linecap="round"/>
<line x1="1355.62" y1="1102.50" x2="1378.12" y2="1102.50" stroke-width="7" stroke-linecap="round"/>
<rect x="1353.57" y="1083.40" width="26.6" height="26.6" fill="#000" stroke="none"/>
<line x1="1550.99" y1="1123.50" x2="1550.99" y2="1135.00" stroke-width="7" stroke-linecap="round"/>
<rect x="1536.99" y="1128.9" width="28" height="21.4" fill="#000" stroke="none"/>
<line x1="1735.11" y1="1136.60" x2="1735.11" y2="1148.90" stroke-width="7" stroke-linecap="round"/>
<line x1="1735.11" y1="1148.90" x2="1735.11" y2="1161.20" stroke-width="7" stroke-linecap="round"/>
<line x1="1723.86" y1="1141.90" x2="1746.36" y2="1141.90" stroke-width="7" stroke-linecap="round"/>
<line x1="1723.86" y1="1155.90" x2="1746.36" y2="1155.90" stroke-width="7" stroke-linecap="round"/>
<rect x="1721.61" y="1135.8" width="27" height="22.9" fill="#000" stroke="none"/>
<polygon points="261.9,228.2 265.6,228.2 269.3,228.3 273.0,228.4 276.7,228.5 280.3,228.6 284.0,228.7 287.7,228.8 291.4,228.9 295.1,228.9 298.7,229.0 302.4,229.2 306.1,229.3 309.8,229.4 313.5,229.5 317.1,229.6 320.8,229.7 324.5,229.8 328.2,230.0 331.8,230.1 335.5,230.2 339.2,230.3 342.9,230.5 346.6,230.6 350.2,230.8 353.9,230.9 357.6,231.1 361.3,231.2 365.0,231.4 368.6,231.6 372.3,231.8 376.0,231.9 379.7,232.1 383.3,232.3 387.0,232.5 390.7,232.7 394.4,232.9 398.1,233.1 401.7,233.4 405.4,233.6 409.1,233.8 412.8,234.0 416.4,234.3 420.1,234.5 423.8,234.8 427.5,235.1 431.1,235.3 434.8,235.6 438.5,235.9 442.2,236.2 445.8,236.5 449.5,236.8 453.2,237.2 456.9,237.5 460.5,237.8 464.2,238.2 467.9,238.6 471.6,238.9 475.2,239.3 478.9,239.7 482.6,240.1 486.2,240.5 489.9,241.0 493.6,241.4 497.3,241.9 500.9,242.3 504.6,242.8 508.3,243.3 511.9,243.8 515.6,244.3 519.3,244.8 523.0,245.4 526.6,246.0 530.3,246.5 534.0,247.1 537.6,247.8 541.3,248.4 545.0,249.0 548.6,249.7 552.3,250.4 556.0,251.1 559.6,251.8 563.3,252.5 566.9,253.3 570.6,254.1 574.3,254.9 577.9,255.7 581.6,256.5 585.3,257.4 588.9,258.3 592.6,259.2 596.2,260.2 599.9,261.1 603.6,262.1 607.2,263.1 610.9,264.2 614.5,265.3 618.2,266.4 621.9,267.5 625.5,268.7 629.2,269.8 632.8,271.1 636.5,272.3 640.1,273.6 643.8,274.9 647.5,276.3 651.1,277.7 654.8,279.1 658.4,280.6 662.1,282.1 665.7,283.6 669.4,285.2 673.0,286.8 676.7,288.4 680.3,290.1 684.0,291.9 687.6,293.7 691.3,295.5 695.0,297.4 698.6,299.3 702.3,301.2 705.9,303.2 709.6,305.3 713.2,307.4 716.9,309.6 720.5,311.8 724.1,314.1 727.8,316.4 731.4,318.8 735.1,321.2 738.7,323.7 742.4,326.2 746.0,328.9 749.7,331.5 753.3,334.2 757.0,337.0 760.6,339.9 764.3,342.8 767.9,345.7 771.6,348.8 775.2,351.9 778.9,355.0 782.5,358.2 786.1,361.5 789.8,364.9 793.4,368.3 797.1,371.8 800.7,375.4 804.4,379.0 808.0,382.7 811.7,386.5 815.4,390.4 819.0,394.3 822.7,398.3 826.3,402.3 830.0,406.5 833.6,410.7 837.3,415.0 840.9,419.3 844.6,423.8 848.3,428.3 851.9,432.9 855.6,437.5 859.2,442.2 862.9,447.0 866.6,451.9 870.2,456.9 873.9,461.9 877.5,467.0 881.2,472.1 884.9,477.4 888.5,482.7 892.2,488.0 895.9,493.5 899.5,499.0 903.2,504.5 906.9,510.2 910.5,515.9 914.2,521.6 917.9,527.4 921.5,533.3 925.2,539.3 928.9,545.2 932.6,551.3 936.2,557.4 939.9,563.5 943.6,569.7 947.3,576.0 950.9,582.2 954.6,588.6 958.3,594.9 962.0,601.3 965.7,607.8 969.3,614.2 973.0,620.7 976.7,627.3 980.4,633.8 984.1,640.4 987.7,647.0 991.4,653.6 995.1,660.2 998.8,666.9 1002.5,673.5 1006.1,680.2 1009.8,686.9 1013.5,693.5 1017.2,700.2 1020.9,706.9 1024.6,713.5 1028.2,720.2 1031.9,726.8 1035.6,733.4 1039.3,740.0 1043.0,746.6 1046.7,753.1 1050.4,759.7 1054.0,766.2 1057.7,772.7 1061.4,779.1 1065.1,785.5 1068.8,791.9 1072.5,798.2 1076.2,804.5 1079.9,810.7 1083.5,816.9 1087.2,823.1 1090.9,829.2 1094.6,835.2 1098.3,841.2 1102.0,847.1 1105.7,853.0 1109.4,858.8 1113.1,864.6 1116.8,870.3 1120.5,875.9 1124.2,881.5 1127.9,887.0 1131.6,892.5 1135.3,897.8 1139.0,903.1 1142.7,908.4 1146.4,913.6 1150.1,918.6 1153.8,923.7 1157.5,928.6 1161.2,933.5 1164.9,938.3 1168.6,943.1 1172.3,947.7 1176.0,952.3 1179.7,956.8 1183.4,961.3 1187.2,965.6 1190.9,969.9 1194.6,974.2 1198.3,978.3 1202.0,982.4 1205.7,986.4 1209.4,990.3 1213.1,994.2 1216.8,998.0 1220.6,1001.7 1224.3,1005.3 1228.0,1008.9 1231.7,1012.4 1235.4,1015.9 1239.1,1019.2 1242.9,1022.5 1246.6,1025.8 1250.3,1028.9 1254.0,1032.1 1257.7,1035.1 1261.4,1038.1 1265.2,1041.0 1268.9,1043.8 1272.6,1046.6 1276.3,1049.3 1280.0,1052.0 1283.8,1054.6 1287.5,1057.2 1291.2,1059.7 1294.9,1062.1 1298.6,1064.5 1302.4,1066.8 1306.1,1069.1 1309.8,1071.3 1313.5,1073.5 1317.2,1075.6 1320.9,1077.7 1324.7,1079.7 1328.4,1081.7 1332.1,1083.6 1335.8,1085.5 1339.5,1087.3 1343.2,1089.1 1346.9,1090.9 1350.6,1092.6 1354.4,1094.2 1358.1,1095.9 1361.8,1097.5 1365.5,1099.0 1369.2,1100.5 1372.9,1102.0 1376.6,1103.4 1380.3,1104.8 1384.0,1106.2 1387.8,1107.5 1391.5,1108.8 1395.2,1110.0 1398.9,1111.3 1402.6,1112.5 1406.3,1113.6 1410.0,1114.8 1413.7,1115.9 1417.4,1117.0 1421.1,1118.0 1424.8,1119.0 1428.5,1120.0 1432.2,1121.0 1435.9,1121.9 1439.6,1122.8 1443.4,1123.7 1447.1,1124.6 1450.8,1125.5 1454.5,1126.3 1458.2,1127.1 1461.9,1127.9 1465.6,1128.6 1469.3,1129.4 1473.0,1130.1 1476.7,1130.8 1480.4,1131.5 1484.1,1132.1 1487.8,1132.8 1491.5,1133.4 1495.2,1134.0 1498.9,1134.6 1502.6,1135.2 1506.2,1135.7 1509.9,1136.3 1513.6,1136.8 1517.3,1137.3 1521.0,1137.8 1524.7,1138.3 1528.4,1138.8 1532.1,1139.3 1535.8,1139.7 1539.5,1140.2 1543.2,1140.6 1546.9,1141.0 1550.6,1141.4 1554.3,1141.8 1558.0,1142.2 1561.7,1142.6 1565.4,1142.9 1569.0,1143.3 1572.7,1143.6 1576.4,1143.9 1580.1,1144.3 1583.8,1144.6 1587.5,1144.9 1591.2,1145.2 1594.9,1145.5 1598.6,1145.7 1602.3,1146.0 1606.0,1146.3 1609.6,1146.5 1613.3,1146.8 1617.0,1147.0 1620.7,1147.3 1624.4,1147.5 1628.1,1147.7 1631.8,1147.9 1635.5,1148.2 1639.2,1148.4 1642.8,1148.6 1646.5,1148.8 1650.2,1148.9 1653.9,1149.1 1657.6,1149.3 1661.3,1149.5 1665.0,1149.6 1668.7,1149.8 1672.3,1150.0 1676.0,1150.1 1679.7,1150.3 1683.4,1150.4 1687.1,1150.6 1690.8,1150.7 1694.5,1150.8 1698.2,1151.0 1701.8,1151.1 1705.5,1151.2 1709.2,1151.3 1712.9,1151.5 1716.6,1151.6 1720.3,1151.7 1724.0,1151.8 1727.6,1151.9 1731.3,1152.0 1735.0,1152.1 1735.2,1145.1 1731.5,1145.0 1727.8,1144.9 1724.2,1144.8 1720.5,1144.7 1716.8,1144.6 1713.1,1144.5 1709.4,1144.3 1705.8,1144.2 1702.1,1144.1 1698.4,1144.0 1694.7,1143.8 1691.0,1143.7 1687.4,1143.6 1683.7,1143.4 1680.0,1143.3 1676.3,1143.1 1672.6,1143.0 1669.0,1142.8 1665.3,1142.7 1661.6,1142.5 1657.9,1142.3 1654.3,1142.1 1650.6,1142.0 1646.9,1141.8 1643.2,1141.6 1639.5,1141.4 1635.9,1141.2 1632.2,1141.0 1628.5,1140.7 1624.8,1140.5 1621.2,1140.3 1617.5,1140.1 1613.8,1139.8 1610.1,1139.6 1606.5,1139.3 1602.8,1139.0 1599.1,1138.8 1595.4,1138.5 1591.7,1138.2 1588.1,1137.9 1584.4,1137.6 1580.7,1137.3 1577.1,1137.0 1573.4,1136.6 1569.7,1136.3 1566.0,1135.9 1562.4,1135.6 1558.7,1135.2 1555.0,1134.8 1551.3,1134.5 1547.7,1134.0 1544.0,1133.6 1540.3,1133.2 1536.6,1132.8 1533.0,1132.3 1529.3,1131.9 1525.6,1131.4 1522.0,1130.9 1518.3,1130.4 1514.6,1129.9 1511.0,1129.4 1507.3,1128.8 1503.6,1128.3 1500.0,1127.7 1496.3,1127.1 1492.6,1126.5 1488.9,1125.9 1485.3,1125.2 1481.6,1124.6 1478.0,1123.9 1474.3,1123.2 1470.6,1122.5 1467.0,1121.8 1463.3,1121.0 1459.6,1120.2 1456.0,1119.4 1452.3,1118.6 1448.6,1117.8 1445.0,1116.9 1441.3,1116.0 1437.6,1115.1 1434.0,1114.2 1430.3,1113.2 1426.7,1112.3 1423.0,1111.3 1419.3,1110.2 1415.7,1109.2 1412.0,1108.1 1408.4,1106.9 1404.7,1105.8 1401.1,1104.6 1397.4,1103.4 1393.7,1102.2 1390.1,1100.9 1386.4,1099.6 1382.8,1098.2 1379.1,1096.9 1375.5,1095.5 1371.8,1094.0 1368.2,1092.5 1364.5,1091.0 1360.8,1089.5 1357.2,1087.9 1353.5,1086.2 1349.9,1084.5 1346.2,1082.8 1342.6,1081.0 1338.9,1079.2 1335.3,1077.4 1331.6,1075.5 1328.0,1073.5 1324.3,1071.5 1320.7,1069.5 1317.0,1067.4 1313.4,1065.3 1309.7,1063.1 1306.1,1060.8 1302.4,1058.5 1298.8,1056.2 1295.1,1053.7 1291.5,1051.3 1287.8,1048.7 1284.2,1046.2 1280.6,1043.5 1276.9,1040.8 1273.3,1038.1 1269.6,1035.3 1266.0,1032.4 1262.3,1029.4 1258.7,1026.4 1255.0,1023.4 1251.4,1020.2 1247.7,1017.0 1244.1,1013.8 1240.4,1010.4 1236.8,1007.0 1233.1,1003.5 1229.5,1000.0 1225.8,996.4 1222.2,992.7 1218.5,989.0 1214.9,985.1 1211.2,981.3 1207.6,977.3 1203.9,973.2 1200.3,969.1 1196.6,964.9 1193.0,960.7 1189.3,956.4 1185.6,952.0 1182.0,947.5 1178.3,942.9 1174.7,938.3 1171.0,933.6 1167.3,928.8 1163.7,924.0 1160.0,919.1 1156.4,914.1 1152.7,909.0 1149.0,903.9 1145.4,898.7 1141.7,893.4 1138.0,888.1 1134.4,882.6 1130.7,877.2 1127.0,871.6 1123.4,866.0 1119.7,860.3 1116.0,854.6 1112.4,848.8 1108.7,843.0 1105.0,837.1 1101.4,831.1 1097.7,825.1 1094.0,819.0 1090.3,812.9 1086.7,806.7 1083.0,800.5 1079.3,794.2 1075.6,787.9 1071.9,781.5 1068.3,775.2 1064.6,768.7 1060.9,762.3 1057.2,755.8 1053.6,749.3 1049.9,742.7 1046.2,736.2 1042.5,729.6 1038.8,722.9 1035.1,716.3 1031.5,709.7 1027.8,703.0 1024.1,696.4 1020.4,689.7 1016.7,683.0 1013.1,676.4 1009.4,669.7 1005.7,663.1 1002.0,656.4 998.3,649.8 994.6,643.2 991.0,636.6 987.3,630.0 983.6,623.4 979.9,616.9 976.2,610.3 972.5,603.9 968.8,597.4 965.1,591.0 961.5,584.6 957.8,578.3 954.1,572.0 950.4,565.7 946.7,559.5 943.0,553.3 939.3,547.2 935.6,541.1 931.9,535.1 928.2,529.1 924.6,523.2 920.9,517.4 917.2,511.6 913.5,505.9 909.8,500.2 906.1,494.6 902.4,489.1 898.7,483.6 895.0,478.2 891.3,472.9 887.6,467.6 883.9,462.4 880.2,457.3 876.5,452.3 872.8,447.3 869.1,442.4 865.3,437.5 861.6,432.8 857.9,428.1 854.2,423.5 850.5,418.9 846.8,414.4 843.1,410.0 839.4,405.7 835.7,401.5 832.0,397.3 828.3,393.2 824.5,389.1 820.8,385.2 817.1,381.3 813.4,377.5 809.7,373.7 806.0,370.1 802.3,366.5 798.6,362.9 794.8,359.5 791.1,356.1 787.4,352.7 783.7,349.5 780.0,346.3 776.2,343.1 772.5,340.1 768.8,337.1 765.1,334.1 761.4,331.3 757.7,328.5 753.9,325.7 750.2,323.0 746.5,320.4 742.8,317.8 739.1,315.3 735.3,312.8 731.6,310.4 727.9,308.1 724.2,305.8 720.5,303.6 716.7,301.4 713.0,299.2 709.3,297.1 705.6,295.1 701.9,293.1 698.2,291.1 694.5,289.2 690.7,287.4 687.0,285.6 683.3,283.8 679.6,282.1 675.9,280.4 672.2,278.8 668.5,277.2 664.8,275.6 661.1,274.1 657.3,272.6 653.6,271.1 649.9,269.7 646.2,268.4 642.5,267.0 638.8,265.7 635.1,264.4 631.4,263.2 627.7,262.0 624.0,260.8 620.2,259.7 616.5,258.6 612.8,257.5 609.1,256.4 605.4,255.4 601.7,254.4 598.0,253.4 594.3,252.4 590.6,251.5 586.9,250.6 583.2,249.7 579.5,248.9 575.8,248.0 572.1,247.2 568.4,246.4 564.7,245.7 561.0,244.9 557.3,244.2 553.6,243.5 549.9,242.8 546.2,242.1 542.5,241.5 538.8,240.8 535.1,240.2 531.4,239.6 527.7,239.0 524.0,238.5 520.3,237.9 516.6,237.4 512.9,236.9 509.2,236.4 505.5,235.9 501.8,235.4 498.1,234.9 494.4,234.5 490.7,234.0 487.0,233.6 483.4,233.2 479.7,232.7 476.0,232.4 472.3,232.0 468.6,231.6 464.9,231.2 461.2,230.9 457.5,230.5 453.8,230.2 450.1,229.9 446.4,229.5 442.7,229.2 439.1,228.9 435.4,228.6 431.7,228.4 428.0,228.1 424.3,227.8 420.6,227.6 416.9,227.3 413.2,227.1 409.5,226.8 405.8,226.6 402.2,226.4 398.5,226.1 394.8,225.9 391.1,225.7 387.4,225.5 383.7,225.3 380.0,225.1 376.3,224.9 372.7,224.8 369.0,224.6 365.3,224.4 361.6,224.3 357.9,224.1 354.2,223.9 350.5,223.8 346.8,223.6 343.2,223.5 339.5,223.4 335.8,223.2 332.1,223.1 328.4,223.0 324.7,222.8 321.0,222.7 317.4,222.6 313.7,222.5 310.0,222.4 306.3,222.3 302.6,222.2 298.9,222.1 295.2,222.0 291.6,221.9 287.9,221.8 284.2,221.7 280.5,221.6 276.8,221.5 273.1,221.4 269.4,221.3 265.8,221.3 262.1,221.2" fill="#000" stroke="none"/>
<line x1="262.14" y1="495.30" x2="262.14" y2="511.00" stroke-width="7" stroke-linecap="round"/>
<line x1="262.14" y1="511.00" x2="262.14" y2="526.70" stroke-width="7" stroke-linecap="round"/>
<line x1="250.89" y1="506.60" x2="273.39" y2="506.60" stroke-width="7" stroke-linecap="round"/>
<line x1="250.89" y1="515.20" x2="273.39" y2="515.20" stroke-width="7" stroke-linecap="round"/>
<polygon points="262.14,495.30 265.67,506.15 277.07,506.15 267.85,512.85 271.37,523.70 262.14,517.00 252.91,523.70 256.44,512.85 247.21,506.15 258.62,506.15" fill="none" stroke-width="2.6" stroke-linejoin="round"/>
<polygon points="262.14,495.30 265.67,506.15 277.07,506.15 267.85,512.85 271.37,523.70 262.14,517.00" fill="#000" stroke="none"/>
<line x1="446.26" y1="495.00" x2="446.26" y2="518.00" stroke-width="7" stroke-linecap="butt"/>
<line x1="446.26" y1="518.00" x2="446.26" y2="541.00" stroke-width="7" stroke-linecap="butt"/>
<polygon points="453.99,532.20 446.26,525.20 438.54,532.20" fill="#fff" stroke="none"/>
<line x1="435.01" y1="495.00" x2="457.51" y2="495.00" stroke-width="7" stroke-linecap="round"/>
<line x1="435.01" y1="541.00" x2="457.51" y2="541.00" stroke-width="7" stroke-linecap="round"/>
<polygon points="446.26,502.30 449.79,513.15 461.20,513.15 451.97,519.85 455.49,530.70 446.26,524.00 437.04,530.70 440.56,519.85 431.33,513.15 442.74,513.15" fill="none" stroke-width="2.6" stroke-linejoin="round"/>
<polygon points="446.26,502.30 449.79,513.15 461.20,513.15 451.97,519.85 455.49,530.70 446.26,524.00" fill="#000" stroke="none"/>
<line x1="630.39" y1="514.50" x2="630.39" y2="533.70" stroke-width="7" stroke-linecap="butt"/>
<line x1="630.39" y1="533.70" x2="630.39" y2="549.40" stroke-width="7" stroke-linecap="round"/>
<polygon points="638.11,547.90 630.39,540.90 622.66,547.90" fill="#fff" stroke="none"/>
<line x1="619.14" y1="514.60" x2="641.64" y2="514.60" stroke-width="7" stroke-linecap="round"/>
<line x1="619.14" y1="551.00" x2="641.64" y2="551.00" stroke-width="7" stroke-linecap="round"/>
<polygon points="630.39,518.00 633.91,528.85 645.32,528.85 636.09,535.55 639.61,546.40 630.39,539.70 621.16,546.40 624.68,535.55 615.45,528.85 626.86,528.85" fill="none" stroke-width="2.6" stroke-linejoin="round"/>
<polygon points="630.39,518.00 633.91,528.85 645.32,528.85 636.09,535.55 639.61,546.40 630.39,539.70" fill="#000" stroke="none"/>
<line x1="814.51" y1="550.10" x2="814.51" y2="565.80" stroke-width="7" stroke-linecap="round"/>
<line x1="814.51" y1="565.80" x2="814.51" y2="581.50" stroke-width="7" stroke-linecap="round"/>
<polygon points="822.23,580.00 814.51,573.00 806.78,580.00" fill="#fff" stroke="none"/>
<line x1="803.26" y1="550.50" x2="825.76" y2="550.50" stroke-width="7" stroke-linecap="round"/>
<line x1="803.26" y1="581.50" x2="825.76" y2="581.50" stroke-width="7" stroke-linecap="round"/>
<polygon points="814.51,550.10 818.03,560.95 829.44,560.95 820.21,567.65 823.73,578.50 814.51,571.80 805.28,578.50 808.80,567.65 799.57,560.95 810.98,560.95" fill="none" stroke-width="2.6" stroke-linejoin="round"/>
<polygon points="814.51,550.10 818.03,560.95 829.44,560.95 820.21,567.65 823.73,578.50 814.51,571.80" fill="#000" stroke="none"/>
<line x1="998.63" y1="556.70" x2="998.63" y2="572.40" stroke-width="7" stroke-linecap="round"/>
<line x1="998.63" y1="572.40" x2="998.63" y2="588.10" stroke-width="7" stroke-linecap="round"/>
<polygon points="1006.36,586.60 998.63,579.60 990.90,586.60" fill="#fff" stroke="none"/>
<line x1="987.38" y1="558.60" x2="1009.88" y2="558.60" stroke-width="7" stroke-linecap="round"/>
<line x1="987.38" y1="586.25" x2="1009.88" y2="586.25" stroke-width="7" stroke-linecap="round"/>
<polygon points="998.63,556.70 1002.15,567.55 1013.56,567.55 1004.33,574.25 1007.86,585.10 998.63,578.40 989.40,585.10 992.92,574.25 983.70,567.55 995.10,567.55" fill="none" stroke-width="2.6" stroke-linejoin="round"/>
<polygon points="998.63,556.70 1002.15,567.55 1013.56,567.55 1004.33,574.25 1007.86,585.10 998.63,578.40" fill="#000" stroke="none"/>
<line x1="1182.75" y1="673.30" x2="1182.75" y2="689.00" stroke-width="7" stroke-linecap="round"/>
<line x1="1182.75" y1="689.00" x2="1182.75" y2="704.70" stroke-width="7" stroke-linecap="round"/>
<line x1="1171.50" y1="681.50" x2="1194.00" y2="681.50" stroke-width="7" stroke-linecap="round"/>
<line x1="1171.50" y1="696.50" x2="1194.00" y2="696.50" stroke-width="7" stroke-linecap="round"/>
<polygon points="1182.75,673.30 1186.27,684.15 1197.68,684.15 1188.45,690.85 1191.98,701.70 1182.75,695.00 1173.52,701.70 1177.04,690.85 1167.82,684.15 1179.22,684.15" fill="none" stroke-width="2.6" stroke-linejoin="round"/>
<polygon points="1182.75,673.30 1186.27,684.15 1197.68,684.15 1188.45,690.85 1191.98,701.70 1182.75,695.00" fill="#000" stroke="none"/>
<line x1="1366.87" y1="938.70" x2="1366.87" y2="954.40" stroke-width="7" stroke-linecap="round"/>
<line x1="1366.87" y1="954.40" x2="1366.87" y2="970.10" stroke-width="7" stroke-linecap="round"/>
<line x1="1355.62" y1="947.00" x2="1378.12" y2="947.00" stroke-width="7" stroke-linecap="round"/>
<line x1="1355.62" y1="962.00" x2="1378.12" y2="962.00" stroke-width="7" stroke-linecap="round"/>
<polygon points="1366.87,938.70 1370.39,949.55 1381.80,949.55 1372.57,956.25 1376.10,967.10 1366.87,960.40 1357.64,967.10 1361.17,956.25 1351.94,949.55 1363.34,949.55" fill="none" stroke-width="2.6" stroke-linejoin="round"/>
<polygon points="1366.87,938.70 1370.39,949.55 1381.80,949.55 1372.57,956.25 1376.10,967.10 1366.87,960.40" fill="#000" stroke="none"/>
<line x1="1550.99" y1="1040.60" x2="1550.99" y2="1070.30" stroke-width="7" stroke-linecap="butt"/>
<line x1="1550.99" y1="1070.30" x2="1550.99" y2="1099.80" stroke-width="7" stroke-linecap="butt"/>
<polygon points="1558.72,1084.50 1550.99,1077.50 1543.26,1084.50" fill="#fff" stroke="none"/>
<line x1="1539.74" y1="1040.60" x2="1562.24" y2="1040.60" stroke-width="7" stroke-linecap="round"/>
<line x1="1539.74" y1="1099.80" x2="1562.24" y2="1099.80" stroke-width="7" stroke-linecap="round"/>
<polygon points="1550.99,1054.60 1554.52,1065.45 1565.92,1065.45 1556.69,1072.15 1560.22,1083.00 1550.99,1076.30 1541.76,1083.00 1545.29,1072.15 1536.06,1065.45 1547.47,1065.45" fill="none" stroke-width="2.6" stroke-linejoin="round"/>
<polygon points="1550.99,1054.60 1554.52,1065.45 1565.92,1065.45 1556.69,1072.15 1560.22,1083.00 1550.99,1076.30" fill="#000" stroke="none"/>
<line x1="1735.11" y1="1098.80" x2="1735.11" y2="1114.50" stroke-width="7" stroke-linecap="round"/>
<line x1="1735.11" y1="1114.50" x2="1735.11" y2="1130.20" stroke-width="7" stroke-linecap="round"/>
<line x1="1723.86" y1="1111.50" x2="1746.36" y2="1111.50" stroke-width="7" stroke-linecap="round"/>
<line x1="1723.86" y1="1117.50" x2="1746.36" y2="1117.50" stroke-width="7" stroke-linecap="round"/>
<polygon points="1735.11,1098.80 1738.64,1109.65 1750.04,1109.65 1740.82,1116.35 1744.34,1127.20 1735.11,1120.50 1725.88,1127.20 1729.41,1116.35 1720.18,1109.65 1731.59,1109.65" fill="none" stroke-width="2.6" stroke-linejoin="round"/>
<polygon points="1735.11,1098.80 1738.64,1109.65 1750.04,1109.65 1740.82,1116.35 1744.34,1127.20 1735.11,1120.50" fill="#000" stroke="none"/>
<polygon points="266.0,520.2 269.7,520.2 273.3,520.2 277.0,520.2 280.7,520.2 284.4,520.2 288.0,520.2 291.7,520.2 295.4,520.2 299.1,520.2 302.7,520.2 306.4,520.2 310.1,520.2 313.7,520.2 317.4,520.2 321.1,520.2 324.8,520.2 328.4,520.2 332.1,520.2 335.8,520.2 339.5,520.2 343.1,520.2 346.8,520.2 350.5,520.2 354.1,520.2 357.8,520.2 361.5,520.2 365.2,520.2 368.8,520.2 372.5,520.2 376.2,520.2 379.9,520.2 383.5,520.2 387.2,520.2 390.9,520.2 394.5,520.2 398.2,520.2 401.9,520.3 405.6,520.3 409.2,520.3 412.9,520.3 416.6,520.3 420.3,520.3 423.9,520.3 427.6,520.3 431.3,520.3 434.9,520.3 438.6,520.3 442.3,520.3 446.0,520.3 449.6,520.3 453.3,520.3 457.0,520.3 460.6,520.3 464.3,520.3 468.0,520.4 471.7,520.4 475.3,520.4 479.0,520.4 482.7,520.4 486.4,520.4 490.0,520.4 493.7,520.4 497.4,520.4 501.0,520.4 504.7,520.4 508.4,520.5 512.1,520.5 515.7,520.5 519.4,520.5 523.1,520.5 526.8,520.5 530.4,520.5 534.1,520.5 537.8,520.6 541.4,520.6 545.1,520.6 548.8,520.6 552.5,520.6 556.1,520.6 559.8,520.7 563.5,520.7 567.1,520.7 570.8,520.7 574.5,520.7 578.2,520.8 581.8,520.8 585.5,520.8 589.2,520.8 592.8,520.9 596.5,520.9 600.2,520.9 603.9,520.9 607.5,521.0 611.2,521.0 614.9,521.0 618.6,521.1 622.2,521.1 625.9,521.1 629.6,521.2 633.2,521.2 636.9,521.2 640.6,521.3 644.3,521.3 647.9,521.4 651.6,521.4 655.3,521.5 658.9,521.5 662.6,521.6 666.3,521.6 669.9,521.7 673.6,521.7 677.3,521.8 681.0,521.9 684.6,521.9 688.3,522.0 692.0,522.1 695.6,522.1 699.3,522.2 703.0,522.3 706.7,522.3 710.3,522.4 714.0,522.5 717.7,522.6 721.3,522.7 725.0,522.8 728.7,522.9 732.3,523.0 736.0,523.1 739.7,523.2 743.3,523.3 747.0,523.4 750.7,523.6 754.4,523.7 758.0,523.8 761.7,523.9 765.4,524.1 769.0,524.2 772.7,524.4 776.4,524.5 780.0,524.7 783.7,524.9 787.4,525.0 791.0,525.2 794.7,525.4 798.4,525.6 802.0,525.8 805.7,526.0 809.4,526.2 813.0,526.4 816.7,526.7 820.4,526.9 824.0,527.2 827.7,527.4 831.3,527.7 835.0,528.0 838.7,528.3 842.3,528.6 846.0,528.9 849.7,529.2 853.3,529.5 857.0,529.8 860.6,530.2 864.3,530.6 868.0,530.9 871.6,531.3 875.3,531.7 878.9,532.2 882.6,532.6 886.3,533.1 889.9,533.5 893.6,534.0 897.2,534.5 900.9,535.0 904.5,535.6 908.2,536.1 911.8,536.7 915.5,537.3 919.2,537.9 922.8,538.6 926.5,539.2 930.1,539.9 933.8,540.6 937.4,541.3 941.1,542.1 944.7,542.9 948.4,543.7 952.0,544.5 955.7,545.4 959.3,546.3 962.9,547.2 966.6,548.2 970.2,549.1 973.9,550.2 977.5,551.2 981.2,552.3 984.8,553.4 988.5,554.6 992.1,555.8 995.7,557.0 999.4,558.3 1003.0,559.6 1006.7,561.0 1010.3,562.4 1013.9,563.9 1017.6,565.3 1021.2,566.9 1024.8,568.5 1028.5,570.1 1032.1,571.8 1035.7,573.6 1039.4,575.4 1043.0,577.2 1046.7,579.1 1050.3,581.1 1053.9,583.1 1057.6,585.2 1061.2,587.3 1064.8,589.5 1068.4,591.8 1072.1,594.1 1075.7,596.5 1079.3,599.0 1083.0,601.5 1086.6,604.1 1090.2,606.8 1093.9,609.6 1097.5,612.4 1101.1,615.2 1104.7,618.2 1108.4,621.2 1112.0,624.3 1115.6,627.5 1119.3,630.8 1122.9,634.1 1126.5,637.5 1130.2,641.0 1133.8,644.6 1137.5,648.2 1141.1,651.9 1144.7,655.7 1148.4,659.6 1152.0,663.5 1155.7,667.6 1159.3,671.7 1162.9,675.8 1166.6,680.1 1170.2,684.4 1173.9,688.8 1177.5,693.3 1181.2,697.8 1184.8,702.4 1188.5,707.1 1192.1,711.9 1195.8,716.7 1199.4,721.5 1203.1,726.5 1206.8,731.4 1210.4,736.5 1214.1,741.6 1217.7,746.7 1221.4,751.9 1225.1,757.1 1228.7,762.4 1232.4,767.7 1236.0,773.1 1239.7,778.5 1243.4,783.9 1247.0,789.3 1250.7,794.8 1254.4,800.2 1258.1,805.7 1261.7,811.2 1265.4,816.7 1269.1,822.2 1272.7,827.8 1276.4,833.3 1280.1,838.8 1283.8,844.2 1287.4,849.7 1291.1,855.2 1294.8,860.6 1298.5,866.0 1302.2,871.4 1305.8,876.8 1309.5,882.1 1313.2,887.3 1316.9,892.6 1320.6,897.8 1324.3,902.9 1328.0,908.0 1331.6,913.0 1335.3,918.0 1339.0,923.0 1342.7,927.8 1346.4,932.6 1350.1,937.4 1353.8,942.1 1357.5,946.7 1361.2,951.2 1364.9,955.7 1368.6,960.1 1372.3,964.4 1376.0,968.7 1379.7,972.9 1383.4,977.0 1387.1,981.0 1390.8,985.0 1394.5,988.8 1398.2,992.6 1401.9,996.4 1405.6,1000.0 1409.3,1003.6 1413.0,1007.1 1416.7,1010.5 1420.5,1013.8 1424.2,1017.1 1427.9,1020.3 1431.6,1023.4 1435.3,1026.4 1439.0,1029.4 1442.7,1032.3 1446.5,1035.1 1450.2,1037.8 1453.9,1040.5 1457.6,1043.1 1461.3,1045.6 1465.0,1048.1 1468.8,1050.5 1472.5,1052.8 1476.2,1055.1 1479.9,1057.3 1483.6,1059.5 1487.3,1061.5 1491.0,1063.6 1494.7,1065.6 1498.5,1067.5 1502.2,1069.3 1505.9,1071.1 1509.6,1072.9 1513.3,1074.6 1517.0,1076.2 1520.7,1077.8 1524.4,1079.4 1528.1,1080.9 1531.8,1082.4 1535.5,1083.8 1539.2,1085.1 1543.0,1086.5 1546.7,1087.7 1550.4,1089.0 1554.1,1090.2 1557.8,1091.3 1561.5,1092.5 1565.2,1093.6 1568.9,1094.6 1572.6,1095.6 1576.3,1096.6 1580.0,1097.6 1583.7,1098.5 1587.4,1099.4 1591.1,1100.3 1594.8,1101.1 1598.5,1101.9 1602.2,1102.7 1605.9,1103.4 1609.6,1104.2 1613.3,1104.9 1616.9,1105.5 1620.6,1106.2 1624.3,1106.8 1628.0,1107.5 1631.7,1108.0 1635.4,1108.6 1639.1,1109.2 1642.8,1109.7 1646.5,1110.2 1650.2,1110.7 1653.9,1111.2 1657.5,1111.7 1661.2,1112.1 1664.9,1112.5 1668.6,1113.0 1672.3,1113.4 1676.0,1113.8 1679.7,1114.1 1683.3,1114.5 1687.0,1114.8 1690.7,1115.2 1694.4,1115.5 1698.1,1115.8 1701.8,1116.1 1705.4,1116.4 1709.1,1116.7 1712.8,1117.0 1716.5,1117.2 1720.2,1117.5 1723.9,1117.7 1727.5,1118.0 1731.2,1118.2 1734.9,1118.4 1735.3,1111.4 1731.6,1111.2 1728.0,1111.0 1724.3,1110.8 1720.6,1110.5 1717.0,1110.3 1713.3,1110.0 1709.7,1109.7 1706.0,1109.4 1702.3,1109.2 1698.7,1108.9 1695.0,1108.5 1691.3,1108.2 1687.7,1107.9 1684.0,1107.5 1680.4,1107.2 1676.7,1106.8 1673.0,1106.4 1669.4,1106.0 1665.7,1105.6 1662.1,1105.2 1658.4,1104.7 1654.7,1104.3 1651.1,1103.8 1647.4,1103.3 1643.8,1102.8 1640.1,1102.2 1636.5,1101.7 1632.8,1101.1 1629.2,1100.5 1625.5,1099.9 1621.8,1099.3 1618.2,1098.7 1614.5,1098.0 1610.9,1097.3 1607.2,1096.6 1603.6,1095.8 1599.9,1095.1 1596.3,1094.3 1592.6,1093.4 1589.0,1092.6 1585.4,1091.7 1581.7,1090.8 1578.1,1089.9 1574.4,1088.9 1570.8,1087.9 1567.1,1086.8 1563.5,1085.8 1559.8,1084.7 1556.2,1083.5 1552.6,1082.3 1548.9,1081.1 1545.3,1079.9 1541.6,1078.6 1538.0,1077.2 1534.4,1075.8 1530.7,1074.4 1527.1,1072.9 1523.4,1071.4 1519.8,1069.8 1516.2,1068.2 1512.5,1066.5 1508.9,1064.8 1505.3,1063.1 1501.6,1061.2 1498.0,1059.4 1494.4,1057.4 1490.7,1055.4 1487.1,1053.4 1483.5,1051.3 1479.8,1049.1 1476.2,1046.8 1472.6,1044.5 1468.9,1042.2 1465.3,1039.7 1461.7,1037.2 1458.1,1034.6 1454.4,1032.0 1450.8,1029.3 1447.2,1026.5 1443.5,1023.7 1439.9,1020.7 1436.3,1017.7 1432.6,1014.7 1429.0,1011.5 1425.4,1008.3 1421.7,1005.0 1418.1,1001.6 1414.5,998.2 1410.8,994.7 1407.2,991.1 1403.6,987.4 1399.9,983.6 1396.3,979.8 1392.6,975.9 1389.0,971.9 1385.3,967.8 1381.7,963.7 1378.1,959.5 1374.4,955.2 1370.8,950.8 1367.1,946.4 1363.5,941.9 1359.8,937.3 1356.2,932.6 1352.5,927.9 1348.9,923.1 1345.2,918.3 1341.6,913.4 1337.9,908.4 1334.2,903.4 1330.6,898.4 1326.9,893.2 1323.3,888.1 1319.6,882.9 1315.9,877.6 1312.3,872.3 1308.6,867.0 1304.9,861.6 1301.3,856.2 1297.6,850.8 1293.9,845.3 1290.3,839.9 1286.6,834.4 1282.9,828.9 1279.3,823.4 1275.6,817.9 1271.9,812.4 1268.3,806.9 1264.6,801.4 1260.9,795.9 1257.2,790.4 1253.5,784.9 1249.9,779.5 1246.2,774.1 1242.5,768.7 1238.8,763.3 1235.1,758.0 1231.5,752.7 1227.8,747.4 1224.1,742.2 1220.4,737.0 1216.7,731.9 1213.0,726.9 1209.3,721.9 1205.7,716.9 1202.0,712.0 1198.3,707.2 1194.6,702.4 1190.9,697.7 1187.2,693.0 1183.5,688.5 1179.8,683.9 1176.1,679.5 1172.4,675.2 1168.7,670.9 1165.0,666.6 1161.3,662.5 1157.6,658.4 1153.9,654.4 1150.2,650.5 1146.5,646.7 1142.8,642.9 1139.1,639.3 1135.4,635.6 1131.6,632.1 1127.9,628.7 1124.2,625.3 1120.5,622.0 1116.8,618.8 1113.1,615.6 1109.4,612.6 1105.7,609.6 1101.9,606.6 1098.2,603.8 1094.5,601.0 1090.8,598.3 1087.1,595.7 1083.4,593.1 1079.7,590.6 1075.9,588.2 1072.2,585.8 1068.5,583.5 1064.8,581.3 1061.1,579.1 1057.4,577.0 1053.6,574.9 1049.9,572.9 1046.2,571.0 1042.5,569.1 1038.8,567.3 1035.1,565.5 1031.4,563.8 1027.7,562.1 1024.0,560.5 1020.3,558.9 1016.6,557.4 1012.8,555.9 1009.1,554.5 1005.4,553.1 1001.7,551.7 998.0,550.4 994.3,549.2 990.6,547.9 986.9,546.8 983.2,545.6 979.5,544.5 975.8,543.4 972.1,542.4 968.4,541.4 964.7,540.4 961.0,539.5 957.3,538.6 953.6,537.7 949.9,536.9 946.2,536.0 942.5,535.2 938.8,534.5 935.1,533.7 931.4,533.0 927.7,532.3 924.0,531.7 920.3,531.0 916.7,530.4 913.0,529.8 909.3,529.2 905.6,528.6 901.9,528.1 898.2,527.6 894.5,527.1 890.8,526.6 887.1,526.1 883.4,525.7 879.8,525.2 876.1,524.8 872.4,524.4 868.7,524.0 865.0,523.6 861.3,523.2 857.6,522.9 854.0,522.5 850.3,522.2 846.6,521.9 842.9,521.6 839.2,521.3 835.5,521.0 831.9,520.7 828.2,520.4 824.5,520.2 820.8,519.9 817.1,519.7 813.5,519.5 809.8,519.2 806.1,519.0 802.4,518.8 798.7,518.6 795.1,518.4 791.4,518.2 787.7,518.0 784.0,517.9 780.3,517.7 776.7,517.5 773.0,517.4 769.3,517.2 765.6,517.1 762.0,516.9 758.3,516.8 754.6,516.7 750.9,516.6 747.2,516.4 743.6,516.3 739.9,516.2 736.2,516.1 732.5,516.0 728.9,515.9 725.2,515.8 721.5,515.7 717.8,515.6 714.2,515.5 710.5,515.4 706.8,515.4 703.1,515.3 699.5,515.2 695.8,515.1 692.1,515.1 688.4,515.0 684.8,514.9 681.1,514.9 677.4,514.8 673.7,514.7 670.1,514.7 666.4,514.6 662.7,514.6 659.0,514.5 655.4,514.5 651.7,514.4 648.0,514.4 644.3,514.3 640.7,514.3 637.0,514.3 633.3,514.2 629.6,514.2 626.0,514.1 622.3,514.1 618.6,514.1 614.9,514.0 611.3,514.0 607.6,514.0 603.9,513.9 600.2,513.9 596.6,513.9 592.9,513.9 589.2,513.8 585.6,513.8 581.9,513.8 578.2,513.8 574.5,513.7 570.9,513.7 567.2,513.7 563.5,513.7 559.8,513.7 556.2,513.6 552.5,513.6 548.8,513.6 545.1,513.6 541.5,513.6 537.8,513.6 534.1,513.5 530.5,513.5 526.8,513.5 523.1,513.5 519.4,513.5 515.8,513.5 512.1,513.5 508.4,513.5 504.7,513.4 501.1,513.4 497.4,513.4 493.7,513.4 490.0,513.4 486.4,513.4 482.7,513.4 479.0,513.4 475.4,513.4 471.7,513.4 468.0,513.4 464.3,513.3 460.7,513.3 457.0,513.3 453.3,513.3 449.6,513.3 446.0,513.3 442.3,513.3 438.6,513.3 435.0,513.3 431.3,513.3 427.6,513.3 423.9,513.3 420.3,513.3 416.6,513.3 412.9,513.3 409.2,513.3 405.6,513.3 401.9,513.3 398.2,513.2 394.5,513.2 390.9,513.2 387.2,513.2 383.5,513.2 379.9,513.2 376.2,513.2 372.5,513.2 368.8,513.2 365.2,513.2 361.5,513.2 357.8,513.2 354.1,513.2 350.5,513.2 346.8,513.2 343.1,513.2 339.5,513.2 335.8,513.2 332.1,513.2 328.4,513.2 324.8,513.2 321.1,513.2 317.4,513.2 313.7,513.2 310.1,513.2 306.4,513.2 302.7,513.2 299.1,513.2 295.4,513.2 291.7,513.2 288.0,513.2 284.4,513.2 280.7,513.2 277.0,513.2 273.3,513.2 269.7,513.2 266.0,513.2" fill="#000" stroke="none"/>
<defs><clipPath id="c0"><path d="M-400,-200H400V100H-400ZM-31.58,-6.83H-19.99V3H-31.58Z M-11.02,-6.83H-0.20V3H-11.02Z" clip-rule="evenodd"/></clipPath>
<clipPath id="c1"><path d="M-400,-200H400V100H-400ZM27.78,-6.83H39.37V3H27.78Z M48.34,-6.83H59.16V3H48.34Z" clip-rule="evenodd"/></clipPath>
<clipPath id="c2"><path d="M-400,-200H400V100H-400ZM10.82,-6.83H22.41V3H10.82Z M31.38,-6.83H42.20V3H31.38Z" clip-rule="evenodd"/></clipPath>
<clipPath id="c3"><path d="M-400,-200H400V100H-400ZM-14.62,-6.83H-3.03V3H-14.62Z M5.94,-6.83H16.76V3H5.94Z" clip-rule="evenodd"/></clipPath>
<clipPath id="c4"><path d="M-400,-200H400V100H-400ZM-31.58,-6.83H-19.99V3H-31.58Z M-11.02,-6.83H-0.20V3H-11.02Z" clip-rule="evenodd"/></clipPath>
<clipPath id="c5"><path d="M-400,-200H400V100H-400ZM-17.20,-8.05H-3.56V3H-17.20Z M7.05,-8.05H19.77V3H7.05Z" clip-rule="evenodd"/></clipPath></defs>
<text transform="translate(190.5,1205.4) scale(1,1.075)" text-anchor="end" font-size="61" >0</text>
<text transform="translate(190.5,1062.525) scale(1,1.075)" text-anchor="end" font-size="61"  clip-path="url(#c0)">0.1</text>
<text transform="translate(187.5,919.65) scale(1,1.075)" text-anchor="end" font-size="61" >0.2</text>
<text transform="translate(187.5,776.775) scale(1,1.075)" text-anchor="end" font-size="61" >0.3</text>
<text transform="translate(190.5,633.9) scale(1,1.075)" text-anchor="end" font-size="61" >0.4</text>
<text transform="translate(191.5,491.025) scale(1,1.075)" text-anchor="end" font-size="61" >0.5</text>
<text transform="translate(189.8,348.15) scale(1,1.075)" text-anchor="end" font-size="61" >0.6</text>
<text transform="translate(189.0,205.27500000000012) scale(1,1.075)" text-anchor="end" font-size="61" >0.7</text>
<text transform="translate(190.5,62.4) scale(1,1.075)" text-anchor="end" font-size="61" >0.8</text>
<text transform="translate(493.0,1272.5) scale(1,1.075)" text-anchor="middle" font-size="61"  clip-path="url(#c1)">0.01</text>
<text transform="translate(878.9,1272.5) scale(1,1.075)" text-anchor="middle" font-size="61"  clip-path="url(#c2)">0.1</text>
<text transform="translate(1266.1,1272.5) scale(1,1.075)" text-anchor="middle" font-size="61"  clip-path="url(#c3)">1</text>
<text transform="translate(1652.0,1272.5) scale(1,1.075)" text-anchor="middle" font-size="61"  clip-path="url(#c4)">10</text>
<text transform="translate(995,1361.2) scale(1,1.085)" text-anchor="middle" font-size="61" style="stroke:none">[Gatifloxacin], ng/mL</text>
<text transform="translate(62.3,563.5) rotate(-90) scale(1,1.07)" style="stroke-width:0.4px" text-anchor="middle" font-size="61">OD450</text>
<text transform="translate(330.5,171) scale(1,1.045)" text-anchor="middle" font-size="73"  clip-path="url(#c5)">1</text>
<text transform="translate(327,307) scale(1,1.045)" text-anchor="middle" font-size="73" >2</text>
<text transform="translate(332,584) scale(1,1.045)" text-anchor="middle" font-size="73" >3</text>
</svg>
</body></html>
